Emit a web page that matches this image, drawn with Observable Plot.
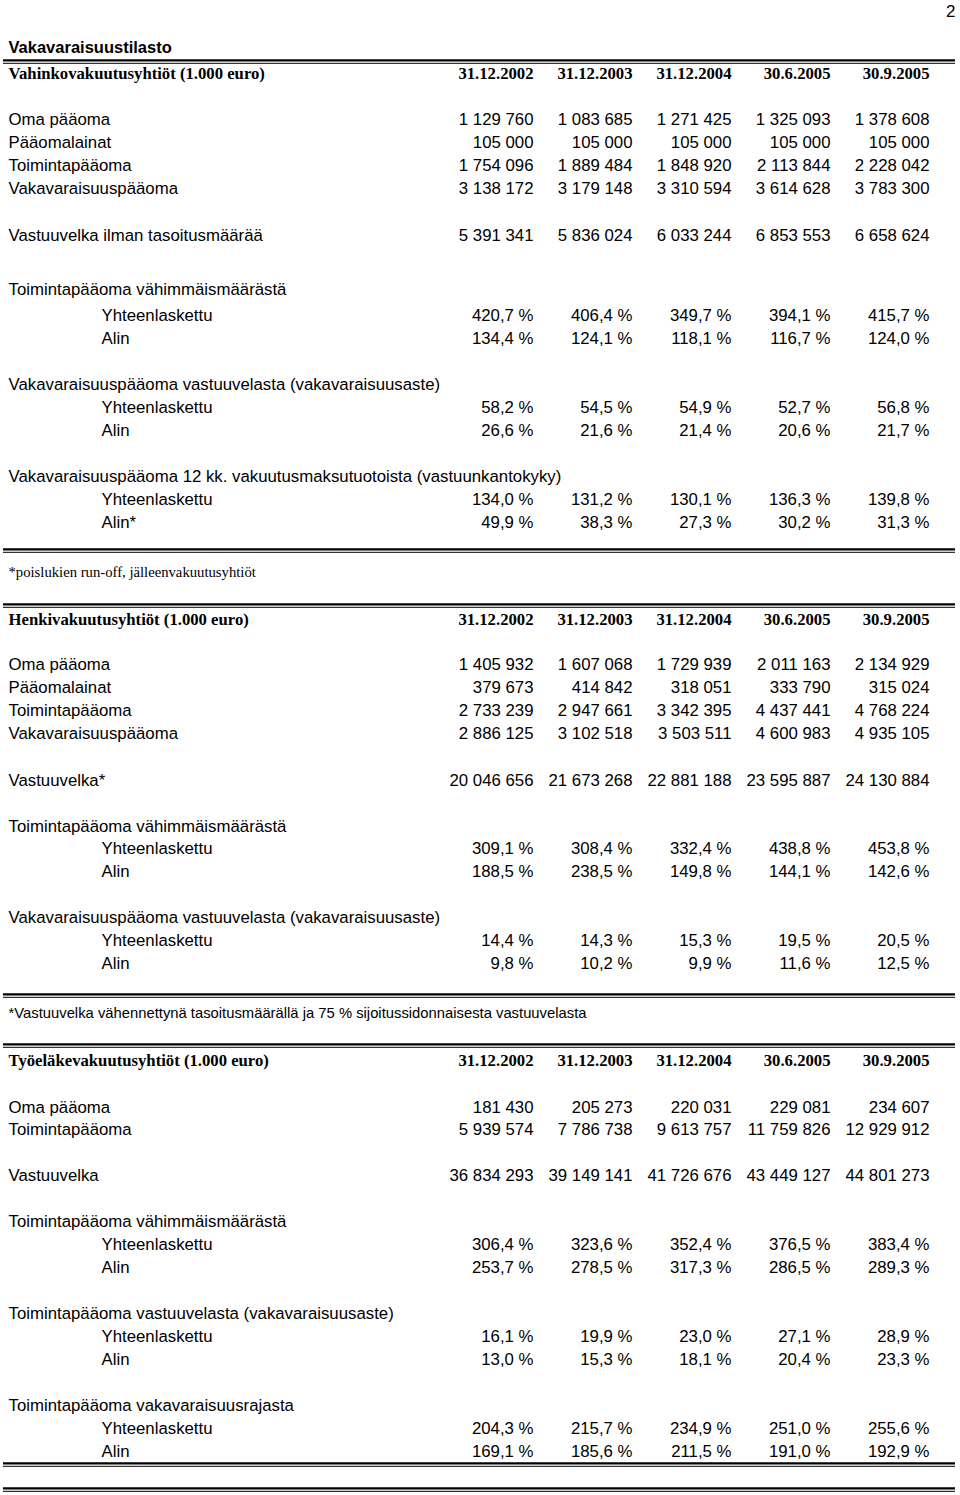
<!DOCTYPE html>
<html>
<head>
<meta charset="utf-8">
<script src="https://cdn.jsdelivr.net/npm/d3@7"></script>
<script src="https://cdn.jsdelivr.net/npm/@observablehq/plot@0.6"></script>
<style>
  html, body { margin: 0; padding: 0; background: #fff; }
  #chart svg { display: block; }
</style>
</head>
<body>
<div id="chart"></div>
<script>
// ---------- DATA ----------
const dates = ["31.12.2002", "31.12.2003", "31.12.2004", "30.6.2005", "30.9.2005"];

const pageNumber = "2";
const pageTitle = "Vakavaraisuustilasto";

// Vahinkovakuutusyhtiöt
const vahinkoHeader = "Vahinkovakuutusyhtiöt (1.000 euro)";
const vOmaPaaoma = [1129760, 1083685, 1271425, 1325093, 1378608];
const vPaaomalainat = [105000, 105000, 105000, 105000, 105000];
const vToimintapaaoma = [1754096, 1889484, 1848920, 2113844, 2228042];
const vVakavaraisuuspaaoma = [3138172, 3179148, 3310594, 3614628, 3783300];
const vVastuuvelka = [5391341, 5836024, 6033244, 6853553, 6658624];
const vToimVahYht = [420.7, 406.4, 349.7, 394.1, 415.7];
const vToimVahAlin = [134.4, 124.1, 118.1, 116.7, 124.0];
const vVakVastYht = [58.2, 54.5, 54.9, 52.7, 56.8];
const vVakVastAlin = [26.6, 21.6, 21.4, 20.6, 21.7];
const vKantokykyYht = [134.0, 131.2, 130.1, 136.3, 139.8];
const vKantokykyAlin = [49.9, 38.3, 27.3, 30.2, 31.3];
const vahinkoFootnote = "*poislukien run-off, jälleenvakuutusyhtiöt";

// Henkivakuutusyhtiöt
const henkiHeader = "Henkivakuutusyhtiöt (1.000 euro)";
const hOmaPaaoma = [1405932, 1607068, 1729939, 2011163, 2134929];
const hPaaomalainat = [379673, 414842, 318051, 333790, 315024];
const hToimintapaaoma = [2733239, 2947661, 3342395, 4437441, 4768224];
const hVakavaraisuuspaaoma = [2886125, 3102518, 3503511, 4600983, 4935105];
const hVastuuvelka = [20046656, 21673268, 22881188, 23595887, 24130884];
const hToimVahYht = [309.1, 308.4, 332.4, 438.8, 453.8];
const hToimVahAlin = [188.5, 238.5, 149.8, 144.1, 142.6];
const hVakVastYht = [14.4, 14.3, 15.3, 19.5, 20.5];
const hVakVastAlin = [9.8, 10.2, 9.9, 11.6, 12.5];
const henkiFootnote = "*Vastuuvelka vähennettynä tasoitusmäärällä ja 75 % sijoitussidonnaisesta vastuuvelasta";

// Työeläkevakuutusyhtiöt
const tyoelakeHeader = "Työeläkevakuutusyhtiöt (1.000 euro)";
const tOmaPaaoma = [181430, 205273, 220031, 229081, 234607];
const tToimintapaaoma = [5939574, 7786738, 9613757, 11759826, 12929912];
const tVastuuvelka = [36834293, 39149141, 41726676, 43449127, 44801273];
const tToimVahYht = [306.4, 323.6, 352.4, 376.5, 383.4];
const tToimVahAlin = [253.7, 278.5, 317.3, 286.5, 289.3];
const tToimVastYht = [16.1, 19.9, 23.0, 27.1, 28.9];
const tToimVastAlin = [13.0, 15.3, 18.1, 20.4, 23.3];
const tRajaYht = [204.3, 215.7, 234.9, 251.0, 255.6];
const tRajaAlin = [169.1, 185.6, 211.5, 191.0, 192.9];

// ---------- FORMATTING ----------
const fi = d3.formatLocale({decimal: ",", thousands: "\u00a0", grouping: [3], currency: ["", " €"]});
const fInt = fi.format(",d");
const fPct1 = fi.format(".1f");
const fPct = v => fPct1(v) + "\u00a0%";

// ---------- LAYOUT (row flow, gaps in px) ----------
const items = [];
let cur = 0;
function put(gap, obj) { cur += gap; items.push({...obj, y: cur}); }
const row = (gap, label, values, fmt, indent = 0) => put(gap, {kind: "row", label, values, fmt, indent});
const head = (gap, label) => put(gap, {kind: "row", label, values: null, indent: 0});

put(11, {kind: "page", text: pageNumber});
put(36, {kind: "title", text: pageTitle});
put(14, {kind: "line"});
put(12, {kind: "header", text: vahinkoHeader});
row(46, "Oma pääoma", vOmaPaaoma, fInt);
row(23, "Pääomalainat", vPaaomalainat, fInt);
row(23, "Toimintapääoma", vToimintapaaoma, fInt);
row(23, "Vakavaraisuuspääoma", vVakavaraisuuspaaoma, fInt);
row(47, "Vastuuvelka ilman tasoitusmäärää", vVastuuvelka, fInt);
head(54, "Toimintapääoma vähimmäismäärästä");
row(26, "Yhteenlaskettu", vToimVahYht, fPct, 1);
row(23, "Alin", vToimVahAlin, fPct, 1);
head(46, "Vakavaraisuuspääoma vastuuvelasta (vakavaraisuusaste)");
row(23, "Yhteenlaskettu", vVakVastYht, fPct, 1);
row(23, "Alin", vVakVastAlin, fPct, 1);
head(46, "Vakavaraisuuspääoma 12 kk. vakuutusmaksutuotoista (vastuunkantokyky)");
row(23, "Yhteenlaskettu", vKantokykyYht, fPct, 1);
row(23, "Alin*", vKantokykyAlin, fPct, 1);
put(28, {kind: "line"});
put(22, {kind: "footSerif", text: vahinkoFootnote});
put(33, {kind: "line"});
put(14, {kind: "header", text: henkiHeader});
row(45, "Oma pääoma", hOmaPaaoma, fInt);
row(23, "Pääomalainat", hPaaomalainat, fInt);
row(23, "Toimintapääoma", hToimintapaaoma, fInt);
row(23, "Vakavaraisuuspääoma", hVakavaraisuuspaaoma, fInt);
row(47, "Vastuuvelka*", hVastuuvelka, fInt);
head(46, "Toimintapääoma vähimmäismäärästä");
row(22, "Yhteenlaskettu", hToimVahYht, fPct, 1);
row(23, "Alin", hToimVahAlin, fPct, 1);
head(46, "Vakavaraisuuspääoma vastuuvelasta (vakavaraisuusaste)");
row(23, "Yhteenlaskettu", hVakVastYht, fPct, 1);
row(23, "Alin", hVakVastAlin, fPct, 1);
put(32, {kind: "line"});
put(18, {kind: "footSans", text: henkiFootnote});
put(32, {kind: "line"});
put(15, {kind: "header", text: tyoelakeHeader});
row(47, "Oma pääoma", tOmaPaaoma, fInt);
row(22, "Toimintapääoma", tToimintapaaoma, fInt);
row(46, "Vastuuvelka", tVastuuvelka, fInt);
head(46, "Toimintapääoma vähimmäismäärästä");
row(23, "Yhteenlaskettu", tToimVahYht, fPct, 1);
row(23, "Alin", tToimVahAlin, fPct, 1);
head(46, "Toimintapääoma vastuuvelasta (vakavaraisuusaste)");
row(23, "Yhteenlaskettu", tToimVastYht, fPct, 1);
row(23, "Alin", tToimVastAlin, fPct, 1);
head(46, "Toimintapääoma vakavaraisuusrajasta");
row(23, "Yhteenlaskettu", tRajaYht, fPct, 1);
row(23, "Alin", tRajaAlin, fPct, 1);
put(13, {kind: "line"});
put(25, {kind: "line"});

const of = k => items.filter(d => d.kind === k);
const rows = of("row");
const cells = rows.flatMap(r => r.values ? r.values.map((v, i) => ({col: dates[i], y: r.y, text: r.fmt(v)})) : []);
const headerCells = of("header").flatMap(h => dates.map(d => ({col: d, y: h.y, text: d})));

const SANS = "'Liberation Sans', Arial, Helvetica, sans-serif";
const SERIF = "'Liberation Serif', 'Times New Roman', serif";
const BODY = 16.8;

const chart = Plot.plot({
  width: 960,
  height: 1495,
  marginTop: 0, marginBottom: 0, marginLeft: 3, marginRight: 5,
  style: {fontFamily: SANS, fontSize: BODY + "px", color: "#000", background: "#fff"},
  x: {type: "point", domain: dates, range: [531, 930], padding: 0, axis: null},
  y: {type: "linear", domain: [0, 1495], range: [0, 1495], axis: null},
  marks: [
    // double rules
    Plot.ruleY(of("line"), {y: d => d.y - 1.2, stroke: "#000", strokeWidth: 2.2}),
    Plot.ruleY(of("line"), {y: d => d.y + 1.8, stroke: "#000", strokeWidth: 1}),
    // page number
    Plot.text(of("page"), {y: "y", text: "text", frameAnchor: "right", textAnchor: "end", fontSize: 17, fill: "#000"}),
    // title
    Plot.text(of("title"), {y: "y", text: "text", frameAnchor: "left", textAnchor: "start", dx: 5, fontWeight: "bold", fontSize: 16.5, fill: "#000"}),
    // section headers (serif bold)
    Plot.text(of("header"), {y: "y", text: "text", frameAnchor: "left", textAnchor: "start", dx: 5, fontFamily: SERIF, fontWeight: "bold", fontSize: 16.7, fill: "#000"}),
    Plot.text(headerCells, {x: "col", y: "y", text: "text", textAnchor: "end", fontFamily: SERIF, fontWeight: "bold", fontSize: 16.7, fill: "#000"}),
    // row labels
    Plot.text(rows.filter(r => !r.indent), {y: "y", text: "label", frameAnchor: "left", textAnchor: "start", dx: 5, fontSize: BODY, fill: "#000"}),
    Plot.text(rows.filter(r => r.indent), {y: "y", text: "label", frameAnchor: "left", textAnchor: "start", dx: 98, fontSize: BODY, fill: "#000"}),
    // values
    Plot.text(cells, {x: "col", y: "y", text: "text", textAnchor: "end", fontSize: BODY, fill: "#000"}),
    // footnotes
    Plot.text(of("footSerif"), {y: "y", text: "text", frameAnchor: "left", textAnchor: "start", dx: 5, fontFamily: SERIF, fontSize: 14.7, fill: "#000"}),
    Plot.text(of("footSans"), {y: "y", text: "text", frameAnchor: "left", textAnchor: "start", dx: 5, fontSize: 14.8, fill: "#000"})
  ]
});
document.getElementById("chart").appendChild(chart);
</script>
</body>
</html>
